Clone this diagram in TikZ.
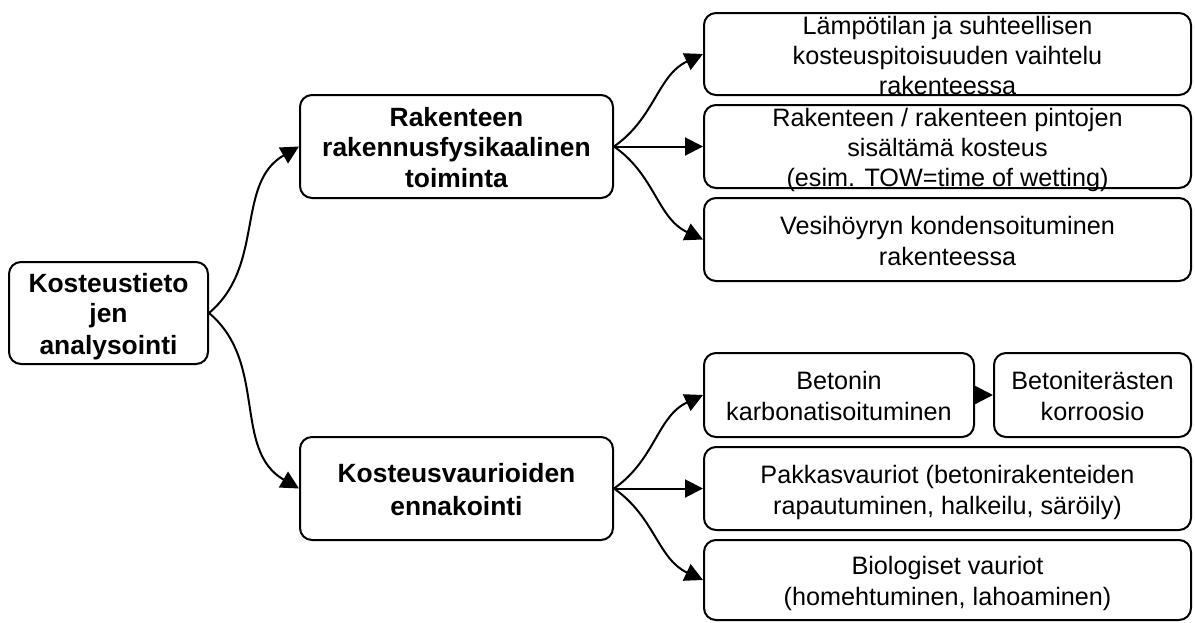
\documentclass[tikz,border=0pt]{standalone}
\usepackage{fontspec}
\setmainfont{Liberation Sans}
\usetikzlibrary{arrows.meta}
\newcommand\lnstrut{\rule[-0.2535em]{0pt}{1.2em}}
\begin{document}
\begin{tikzpicture}[x=1pt,y=1pt,
  boxstyle/.style={draw, line width=2pt, rounded corners=12pt, fill=white, inner sep=0pt},
  txt/.style={align=center, inner sep=0pt, yshift=-1.5pt, font=\fontsize{25.2}{30.2}\selectfont},
  btxt/.style={align=center, inner sep=0pt, yshift=-1.5pt, font=\fontsize{26.4}{30}\selectfont\bfseries},
  arr/.style={line width=2pt, -{Triangle[length=18pt,width=18pt]}}]
\useasboundingbox[fill=white] (0,0) rectangle (1195,-622);
% boxes
\node[boxstyle, minimum width=199pt, minimum height=102pt] (root) at (108.5,-313) {};
\node[boxstyle, minimum width=313pt, minimum height=103pt] (A) at (456.5,-146.5) {};
\node[boxstyle, minimum width=313pt, minimum height=103pt] (B) at (456.5,-488.5) {};
\node[boxstyle, minimum width=487pt, minimum height=82pt] (r1) at (947.5,-54) {};
\node[boxstyle, minimum width=487pt, minimum height=83pt] (r2) at (947.5,-146.5) {};
\node[boxstyle, minimum width=487pt, minimum height=83pt] (r3) at (947.5,-239.5) {};
\node[boxstyle, minimum width=270pt, minimum height=84pt] (c1) at (839,-395) {};
\node[boxstyle, minimum width=197pt, minimum height=84pt] (c2) at (1092.5,-395) {};
\node[boxstyle, minimum width=487pt, minimum height=83pt] (r5) at (947.5,-488.5) {};
\node[boxstyle, minimum width=487pt, minimum height=80pt] (r6) at (947.5,-580) {};
% texts
\node[btxt] (roott) at (root.center) {\lnstrut Kosteustieto\\jen\\analysointi\lnstrut};
\node[btxt] (At) at (A.center) {\lnstrut Rakenteen\\rakennusfysikaalinen\\toiminta\lnstrut};
\node[btxt] (Bt) at (B.center) {\lnstrut Kosteusvaurioiden\\ennakointi\lnstrut};
\node[txt] (r1t) at (r1.center) {\lnstrut Lämpötilan ja suhteellisen\\kosteuspitoisuuden vaihtelu\\rakenteessa\lnstrut};
\node[txt] (r2t) at (r2.center) {\lnstrut Rakenteen / rakenteen pintojen\\sisältämä kosteus\\(esim. TOW=time of wetting)\lnstrut};
\node[txt] (r3t) at (r3.center) {\lnstrut Vesihöyryn kondensoituminen\\rakenteessa\lnstrut};
\node[txt] (c1t) at (c1.center) {\lnstrut Betonin\\karbonatisoituminen\lnstrut};
\node[txt] (c2t) at (c2.center) {\lnstrut Betoniterästen\\korroosio\lnstrut};
\node[txt] (r5t) at (r5.center) {\lnstrut Pakkasvauriot (betonirakenteiden\\rapautuminen, halkeilu, säröily)\lnstrut};
\node[txt] (r6t) at (r6.center) {\lnstrut Biologiset vauriot\\(homehtuminen, lahoaminen)\lnstrut};
% connectors
\draw[arr] (root.east) to[out=40,in=210] (A.west);
\draw[arr] (root.east) to[out=-40,in=150] (B.west);
\draw[arr] (A.east) to[out=35,in=205] (r1.west);
\draw[arr] (A.east) -- (r2.west);
\draw[arr] (A.east) to[out=-35,in=155] (r3.west);
\draw[arr] (B.east) to[out=35,in=205] (c1.west);
\draw[arr] (B.east) -- (r5.west);
\draw[arr] (B.east) to[out=-35,in=155] (r6.west);
\draw[arr] (c1.east) -- (c2.west);
\end{tikzpicture}
\end{document}
